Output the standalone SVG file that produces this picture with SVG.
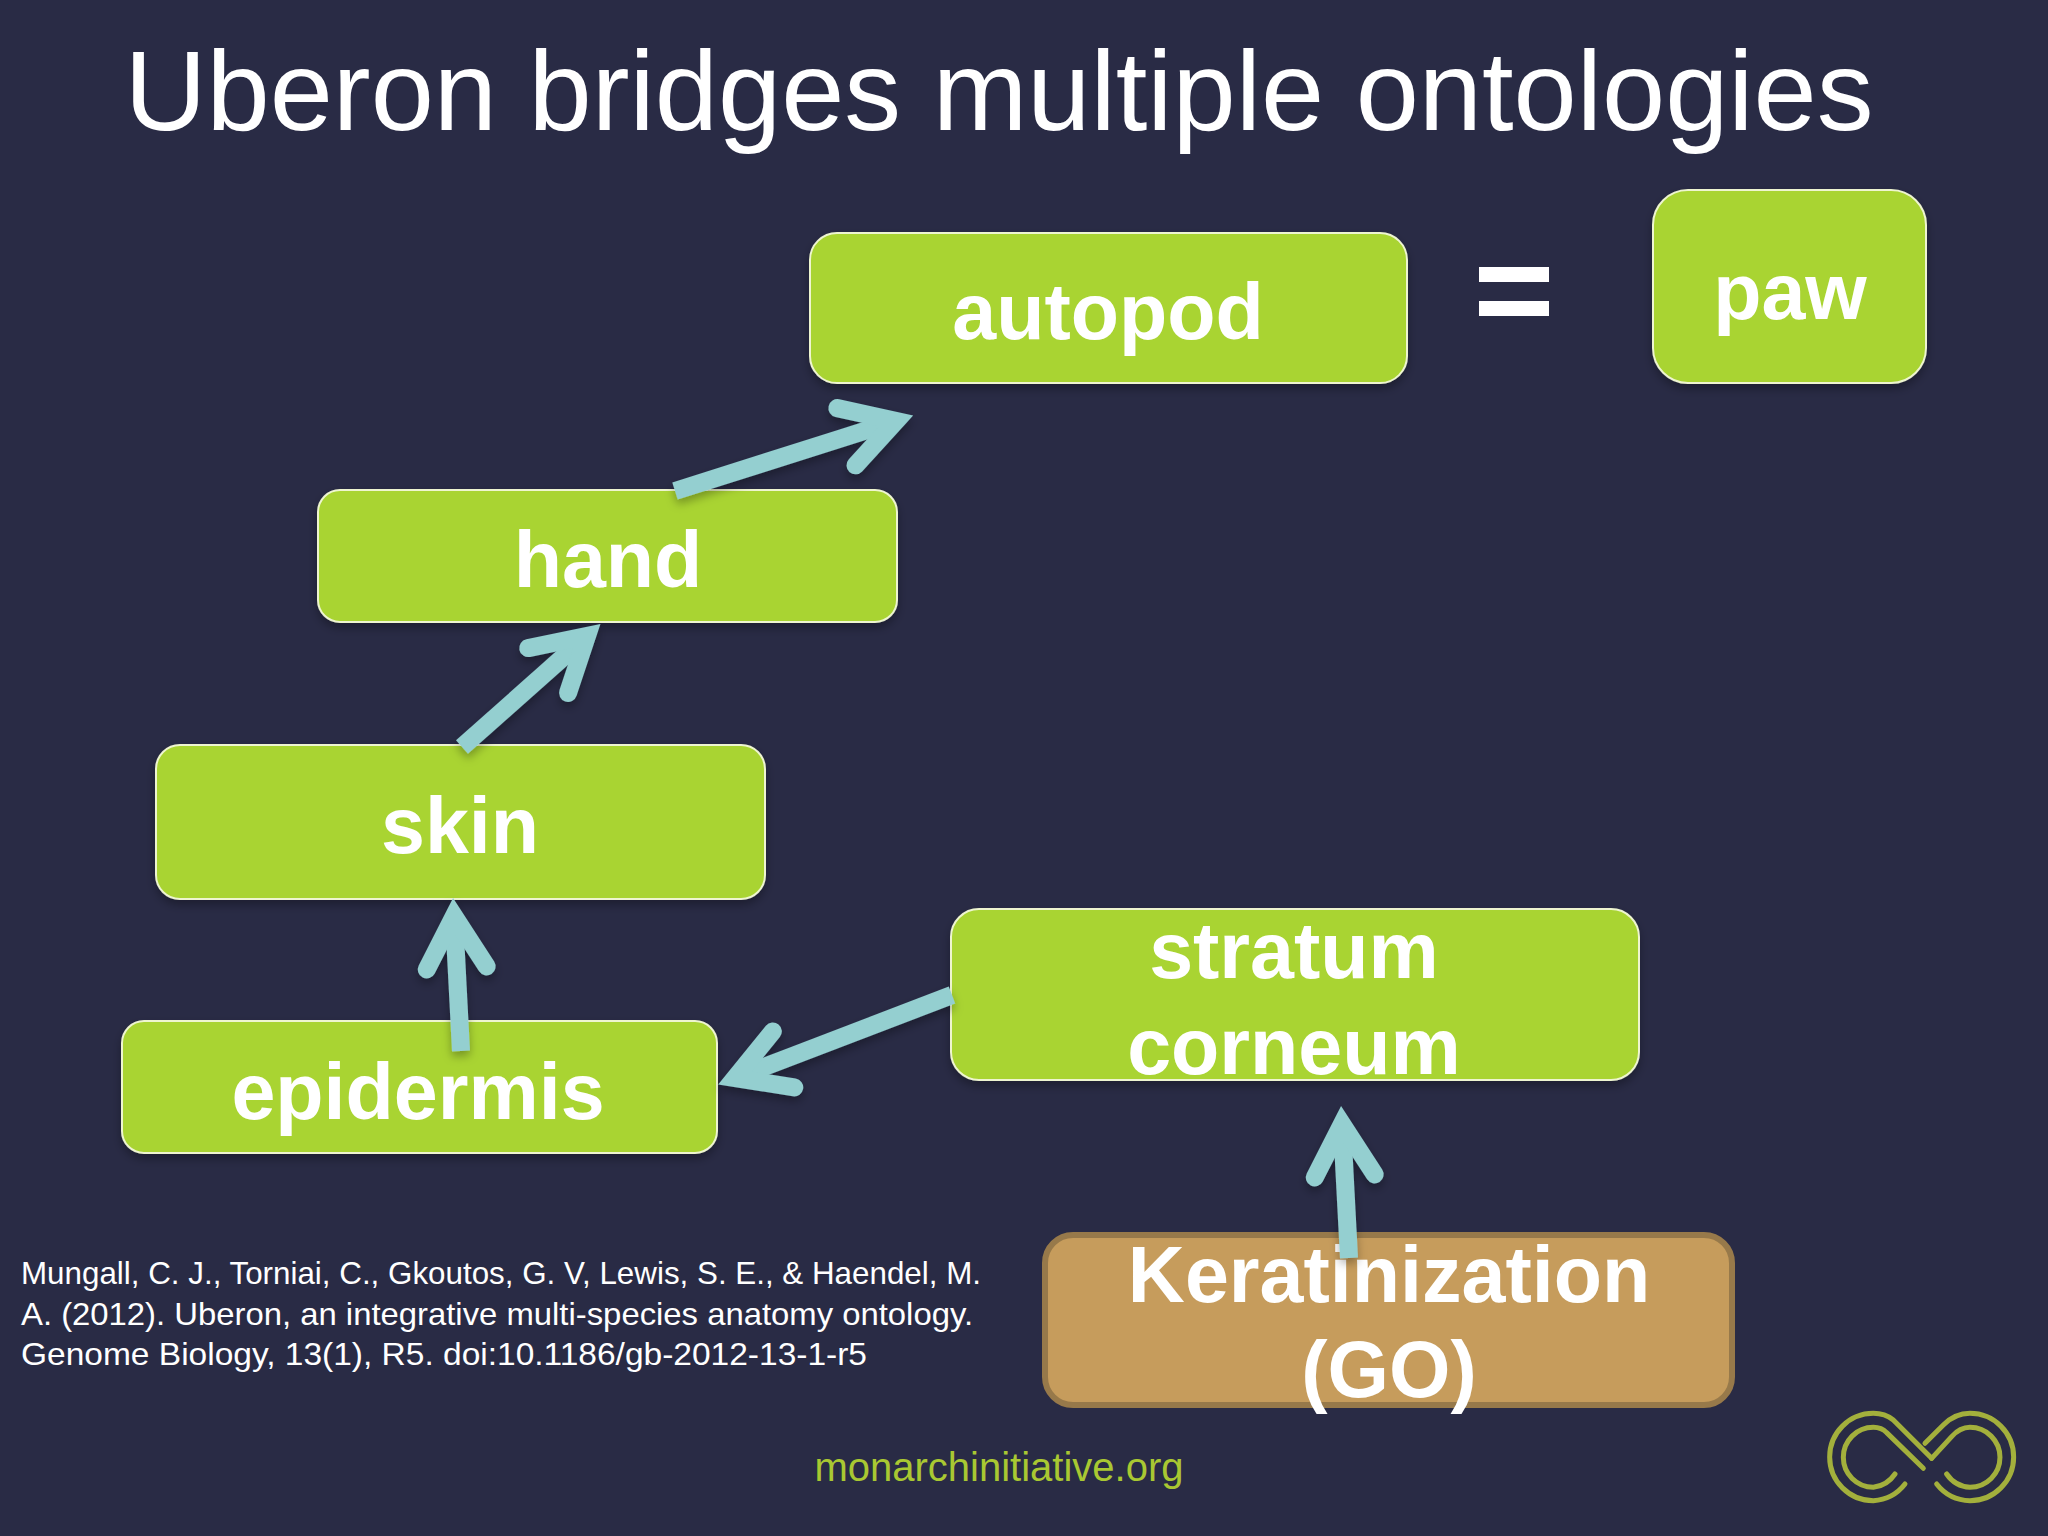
<svg xmlns="http://www.w3.org/2000/svg" width="2048" height="1536" viewBox="0 0 2048 1536">
<style>
text{font-family:"Liberation Sans",Arial,sans-serif}
.box{fill:#a9d431;stroke:#eef5d0;stroke-width:2;filter:url(#sh)}
.go{fill:#c69c5c;stroke:#97794a;stroke-width:6;filter:none}
.lb{font-weight:700;font-size:79px;fill:#fff;text-anchor:middle}
.shaft{fill:none;stroke:#94cfd0;stroke-width:18;marker-end:url(#head)}
.logo path{fill:none;stroke:#a3b03c;stroke-width:15;stroke-linecap:round;stroke-linejoin:round}
.cite{font-size:32px;fill:#fff}
</style>
<defs>
<filter id="sh" x="-10%" y="-20%" width="120%" height="140%"><feDropShadow dx="0" dy="5" stdDeviation="5" flood-color="#000" flood-opacity=".3"/></filter>
<marker id="head" markerUnits="userSpaceOnUse" markerWidth="110" markerHeight="110" refX="70" refY="55" orient="auto">
<path d="M18 25L70 55L18 85" fill="none" stroke="#94cfd0" stroke-width="18" stroke-linecap="round" stroke-linejoin="miter" stroke-miterlimit="6"/>
</marker>
</defs>
<rect width="2048" height="1536" fill="#292b45"/>
<text x="999" y="130" text-anchor="middle" font-size="113.6" fill="#fff">Uberon bridges multiple ontologies</text>
<g id="autopod"><rect class="box" x="810" y="233" width="597" height="150" rx="27"/><text class="lb" x="1108" y="339">autopod</text></g>
<g id="equals"><rect x="1479" y="267" width="70" height="15" fill="#fff"/><rect x="1479" y="301" width="70" height="15" fill="#fff"/></g>
<g id="paw"><rect class="box" x="1653" y="190" width="273" height="193" rx="35"/><text class="lb" x="1790" y="319">paw</text></g>
<g id="hand"><rect class="box" x="318" y="490" width="579" height="132" rx="22"/><text class="lb" x="608" y="587">hand</text></g>
<g id="skin"><rect class="box" x="156" y="745" width="609" height="154" rx="24"/><text class="lb" x="460" y="853">skin</text></g>
<g id="epidermis"><rect class="box" x="122" y="1021" width="595" height="132" rx="22"/><text class="lb" x="418" y="1119">epidermis</text></g>
<g id="stratum-corneum"><rect class="box" x="951" y="909" width="688" height="171" rx="28"/><text class="lb" x="1294" y="978">stratum</text><text class="lb" x="1294" y="1074">corneum</text></g>
<g id="keratinization"><rect class="box go" x="1045" y="1235" width="687" height="170" rx="28"/><text class="lb" x="1389" y="1302">Keratinization</text><text class="lb" x="1389" y="1397">(GO)</text></g>
<g id="connectors" filter="url(#sh)">
<path class="shaft" d="M675 491L896 421"/>
<path class="shaft" d="M462 747L587 636"/>
<path class="shaft" d="M461 1051L454 916"/>
<path class="shaft" d="M952 995L735 1078"/>
<path class="shaft" d="M1349 1258L1342 1124"/>
</g>
<g id="citation"><text class="cite" x="21" y="1284" textLength="960" lengthAdjust="spacingAndGlyphs">Mungall, C. J., Torniai, C., Gkoutos, G. V, Lewis, S. E., &amp; Haendel, M.</text><text class="cite" x="21" y="1325" textLength="952" lengthAdjust="spacingAndGlyphs">A. (2012). Uberon, an integrative multi-species anatomy ontology.</text><text class="cite" x="21" y="1365" textLength="846" lengthAdjust="spacingAndGlyphs">Genome Biology, 13(1), R5. doi:10.1186/gb-2012-13-1-r5</text></g>
<text id="site" x="999" y="1481" text-anchor="middle" font-size="40" fill="#a9c832">monarchinitiative.org</text>
<g id="logo" class="logo" transform="translate(1780 1380) scale(.3333)">
<path d="M375 312A130 130 0 0 1 280 362A130 130 0 0 1 280 100Q315 100 340 120L455 235"/>
<path d="M345 282A92 92 0 0 1 280 322A90 90 0 0 1 280 142Q305 142 320 158L430 265"/>
<path d="M435 190L490 135Q525 100 570 100A130 130 0 0 1 570 362A130 130 0 0 1 470 312"/>
<path d="M455 235L515 170Q540 142 570 142A90 90 0 0 1 570 322A92 92 0 0 1 500 282"/>
</g>
</svg>
